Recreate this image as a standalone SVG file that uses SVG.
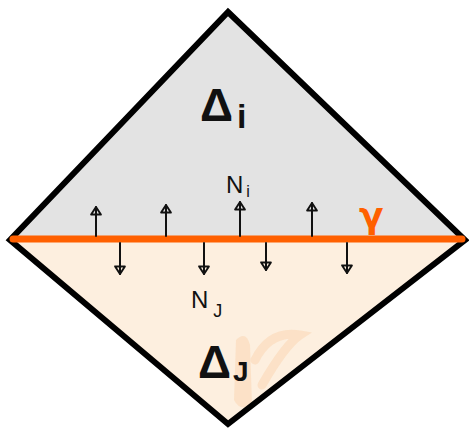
<svg xmlns="http://www.w3.org/2000/svg" width="469" height="433" viewBox="0 0 469 433">
<style>
.arrow{stroke:#111;stroke-width:2;fill:none;stroke-linecap:round;marker-end:url(#head)}
.lbl{font-family:"Liberation Sans",Arial,sans-serif;fill:#111}
.big{font-size:46px;font-weight:bold}
.small{font-size:24px}
</style>
<defs>
<marker id="head" viewBox="0 0 12 12" refX="10" refY="6" markerWidth="13" markerHeight="13" markerUnits="userSpaceOnUse" orient="auto">
<path d="M3,1.5 L10,6 L3,10.5 Z" fill="none" stroke="#111" stroke-width="1.8" stroke-linejoin="round"/>
</marker>
</defs>
<rect width="469" height="433" fill="#ffffff"/>
<g id="delta-i-region">
<polygon points="228,12 465,240 10,240" fill="#e3e3e3"/>
</g>
<g id="delta-j-region">
<polygon points="10,240 465,240 228,424" fill="#fdefdf"/>
<path d="M236,340 Q246,330 250,345 L252,405 Q240,412 234,400 Z" fill="#fbdcbc" opacity="0.7"/>
<path d="M255,360 Q270,330 300,335 Q285,345 262,385" fill="none" stroke="#fbdcbc" stroke-width="9" stroke-linecap="round" opacity="0.7"/>
</g>
<g id="diamond-outline">
<polygon points="228,12 465,240 228,424 10,240" fill="none" stroke="#000" stroke-width="6" stroke-linejoin="miter"/>
</g>
<g id="gamma-interface">
<line x1="13" y1="239" x2="462" y2="239" stroke="#ff6000" stroke-width="7" stroke-linecap="round"/>
<text x="359" y="228" font-family="'DejaVu Sans',sans-serif" font-size="36" font-weight="bold" fill="#ff6000">γ</text>
</g>
<g id="connectors">
<line class="arrow" x1="96" y1="236" x2="96" y2="207"/>
<line class="arrow" x1="166" y1="236" x2="166" y2="205"/>
<line class="arrow" x1="240" y1="236" x2="240" y2="202"/>
<line class="arrow" x1="312" y1="236" x2="312" y2="203"/>
<line class="arrow" x1="120" y1="243" x2="120" y2="274"/>
<line class="arrow" x1="204" y1="243" x2="204" y2="274"/>
<line class="arrow" x1="266" y1="243" x2="266" y2="270"/>
<line class="arrow" x1="347" y1="243" x2="347" y2="273"/>
</g>
<g id="label-delta-i">
<text class="lbl big" x="200" y="121">Δ<tspan font-size="34" dx="4" dy="7">i</tspan></text>
</g>
<g id="label-n-i">
<text class="lbl small" x="226" y="193">N<tspan font-size="16" dx="3" dy="4">i</tspan></text>
</g>
<g id="label-n-j">
<text class="lbl small" x="191" y="308">N<tspan font-size="18" dx="5" dy="9">J</tspan></text>
</g>
<g id="label-delta-j">
<text class="lbl big" x="198" y="378">Δ<tspan font-size="28" dx="2" dy="3">J</tspan></text>
</g>
</svg>
